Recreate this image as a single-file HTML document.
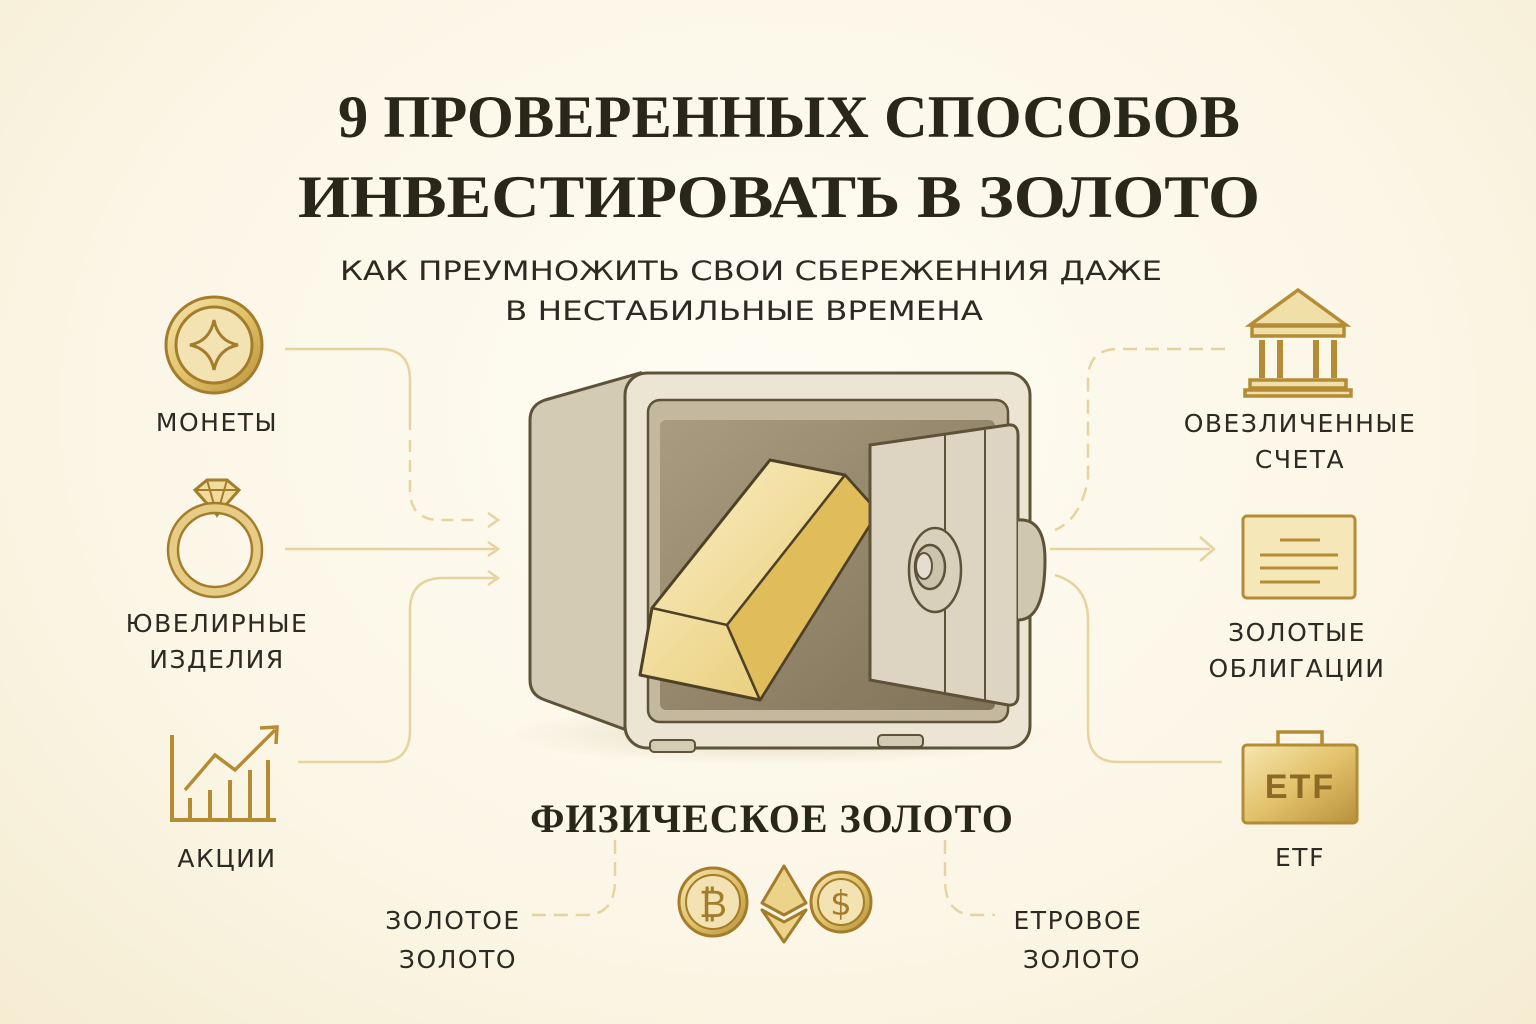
<!DOCTYPE html>
<html><head><meta charset="utf-8"><style>
html,body{margin:0;padding:0}
body{width:1536px;height:1024px;overflow:hidden;background:radial-gradient(ellipse at 50% 40%,#fefcf3 0%,#fbf6e6 60%,#f5ecd2 100%);}
svg{display:block}
.t{font-family:"Liberation Serif",serif;font-weight:bold;fill:#29261a}
.s{font-family:"DejaVu Sans","Liberation Sans",sans-serif;fill:#2c2a22}
</style></head><body>
<svg width="1536" height="1024" viewBox="0 0 1536 1024" xmlns="http://www.w3.org/2000/svg">
<defs>
<linearGradient id="g" x1="0" y1="0" x2="1" y2="1"><stop offset="0" stop-color="#f6e6b0"/><stop offset="0.5" stop-color="#e2c26a"/><stop offset="1" stop-color="#b8913a"/></linearGradient>
<linearGradient id="bar" x1="0" y1="0" x2="1" y2="1"><stop offset="0" stop-color="#fbf0c8"/><stop offset="1" stop-color="#e4c566"/></linearGradient>
<linearGradient id="inner" x1="0" y1="0" x2="1" y2="1"><stop offset="0" stop-color="#a99c80"/><stop offset="1" stop-color="#7f7258"/></linearGradient>
<radialGradient id="sh"><stop offset="0" stop-color="#c9bb98" stop-opacity=".5"/><stop offset="1" stop-color="#c9bb98" stop-opacity="0"/></radialGradient>
</defs>

<text class="t" x="338" y="137" font-size="60" textLength="902" lengthAdjust="spacingAndGlyphs">9 ПРОВЕРЕННЫХ СПОСОБОВ</text>
<text class="t" x="298" y="217" font-size="60" textLength="962" lengthAdjust="spacingAndGlyphs">ИНВЕСТИРОВАТЬ В ЗОЛОТО</text>
<text class="s" x="340" y="280" font-size="27" textLength="822" lengthAdjust="spacingAndGlyphs">КАК ПРЕУМНОЖИТЬ СВОИ СБЕРЕЖЕННИЯ ДАЖЕ</text>
<text class="s" x="505" y="320" font-size="27" textLength="478" lengthAdjust="spacingAndGlyphs">В НЕСТАБИЛЬНЫЕ ВРЕМЕНА</text>

<!-- connectors -->
<g fill="none" stroke="#e6d3a0" stroke-width="2.5">
<path d="M285 349 H380 Q410 349 410 380 V430"/>
<path d="M410 440 V490 Q410 520 440 520 H480" stroke-dasharray="12 8"/>
<path d="M285 549 H495"/>
<path d="M298 762 H380 Q410 762 410 730 V610 Q410 580 440 578 H495" />
<path d="M488 513 L498 520 L488 527 M488 542 L498 549 L488 556 M488 571 L498 578 L488 585"/>
<path d="M1225 349 H1118 Q1088 349 1088 380 V480 Q1080 520 1055 530" stroke-dasharray="14 8"/>
<path d="M1050 549 H1210 M1200 537 L1214 549 L1200 561"/>
<path d="M1055 575 Q1088 585 1088 620 V730 Q1088 762 1118 762 H1222"/>
<path d="M615 840 V880 Q615 915 585 915 H530" stroke-dasharray="14 8"/>
<path d="M945 840 V880 Q945 915 975 915 H995" stroke-dasharray="14 8"/>
</g>

<!-- safe -->
<ellipse cx="780" cy="735" rx="270" ry="30" fill="url(#sh)"/>
<path d="M545 400 L640 373 L640 735 L545 700 Q530 695 530 680 V420 Q530 405 545 400Z" fill="#d4cbb5" stroke="#5e5238" stroke-width="3"/>
<rect x="625" y="373" width="405" height="375" rx="22" fill="#ece5d3" stroke="#5e5238" stroke-width="3"/>
<rect x="648" y="400" width="360" height="322" rx="12" fill="#c4b99f" stroke="#5e5238" stroke-width="2.5"/>
<rect x="660" y="420" width="335" height="290" rx="6" fill="url(#inner)"/>
<rect x="650" y="740" width="45" height="12" rx="4" fill="#d4cbb5" stroke="#5e5238" stroke-width="2"/>
<rect x="878" y="735" width="45" height="12" rx="4" fill="#d4cbb5" stroke="#5e5238" stroke-width="2"/>
<!-- bar -->
<path d="M652 608 L770 460 L845 475 L878 512 L760 700 L640 675 Z" fill="url(#bar)" stroke="#4e4226" stroke-width="3" stroke-linejoin="round"/>
<path d="M652 608 L727 625 L845 475" fill="none" stroke="#4e4226" stroke-width="2.5"/>
<path d="M727 625 L760 700" fill="none" stroke="#4e4226" stroke-width="2.5"/>
<path d="M727 625 L845 475 L878 512 L760 700 Z" fill="#e0bd5a" stroke="#4e4226" stroke-width="2.5" stroke-linejoin="round"/>
<!-- door -->
<path d="M870 445 L1008 425 Q1018 424 1018 435 V695 Q1018 706 1008 705 L870 680 Z" fill="#ddd5c2" stroke="#5e5238" stroke-width="3"/>
<path d="M945 435 V695 M985 430 V700" stroke="#5e5238" stroke-width="2" fill="none"/>
<path d="M1018 520 Q1045 518 1045 560 Q1045 620 1018 620" fill="#d0c7b1" stroke="#5e5238" stroke-width="3"/>
<ellipse cx="935" cy="570" rx="26" ry="42" fill="#d8d0bb" stroke="#5e5238" stroke-width="2.5"/>
<ellipse cx="930" cy="567" rx="15" ry="22" fill="#ccc3ad" stroke="#5e5238" stroke-width="2.5"/>
<ellipse cx="924" cy="566" rx="8" ry="13" fill="#e5dece" stroke="#5e5238" stroke-width="2"/>

<!-- coin -->
<circle cx="214" cy="345" r="48" fill="url(#g)" stroke="#a47d2c" stroke-width="3"/>
<circle cx="214" cy="345" r="38" fill="#f3e3b2" stroke="#a47d2c" stroke-width="3"/>
<path d="M214 320 Q218 341 238 345 Q218 349 214 370 Q210 349 190 345 Q210 341 214 320Z" fill="none" stroke="#a47d2c" stroke-width="3"/>
<!-- ring -->
<path d="M195 490 L207 480 H227 L239 490 L217 515 Z" fill="#f0dc9c" stroke="#a47d2c" stroke-width="3"/>
<path d="M195 490 H239 M207 480 L217 515 L227 480" fill="none" stroke="#a47d2c" stroke-width="2"/>
<circle cx="215" cy="550" r="42" fill="none" stroke="#e6cc85" stroke-width="8"/>
<circle cx="215" cy="550" r="47" fill="none" stroke="#a47d2c" stroke-width="2.5"/>
<circle cx="215" cy="550" r="37" fill="none" stroke="#a47d2c" stroke-width="2.5"/>
<!-- chart -->
<g stroke="#b48c36" stroke-width="4" fill="none">
<path d="M172 735 V820 H276"/>
<path d="M190 820 V798 M210 820 V790 M230 820 V780 M250 820 V770 M268 820 V760"/>
<path d="M185 790 L215 755 L235 770 L275 730 M260 728 L277 727 L276 744" stroke-width="3.5"/>
</g>
<!-- bank -->
<g stroke="#b48c36" stroke-width="3.5" fill="#f1dfa8">
<path d="M1250 325 L1298 290 L1346 325 Z"/>
<rect x="1252" y="326" width="92" height="10"/>
<path d="M1262 340 V378 M1280 340 V378 M1316 340 V378 M1334 340 V378" fill="none" stroke-width="6"/>
<rect x="1250" y="380" width="96" height="8"/>
<rect x="1245" y="390" width="106" height="6"/>
</g>
<!-- certificate -->
<rect x="1243" y="516" width="112" height="82" rx="4" fill="#f6e7b8" stroke="#b48c36" stroke-width="3"/>
<path d="M1280 540 H1320 M1260 555 H1338 M1260 568 H1338 M1260 582 H1320" stroke="#b48c36" stroke-width="3"/>
<!-- ETF -->
<path d="M1278 745 V732 H1322 V745" fill="none" stroke="#b48c36" stroke-width="3.5"/>
<rect x="1243" y="745" width="114" height="78" rx="4" fill="url(#g)" stroke="#b48c36" stroke-width="3"/>
<text x="1300" y="798" font-family="Liberation Sans,sans-serif" font-size="34" font-weight="bold" fill="#8a6a26" text-anchor="middle" letter-spacing="2">ETF</text>
<!-- crypto -->
<circle cx="713" cy="902" r="34" fill="url(#g)" stroke="#a47d2c" stroke-width="3"/>
<circle cx="713" cy="902" r="27" fill="#f3e3b2" stroke="#a47d2c" stroke-width="2"/>
<text x="713" y="917" font-family="DejaVu Sans,sans-serif" font-size="38" fill="#a47d2c" text-anchor="middle">₿</text>
<path d="M784 866 L806 903 L784 915 L762 903 Z M762 910 L784 942 L806 910 L784 922 Z" fill="#ecd38a" stroke="#a47d2c" stroke-width="3" stroke-linejoin="round"/>
<circle cx="841" cy="902" r="30" fill="url(#g)" stroke="#a47d2c" stroke-width="3"/>
<circle cx="841" cy="902" r="23" fill="#f3e3b2" stroke="#a47d2c" stroke-width="2"/>
<text x="841" y="915" font-family="DejaVu Sans,sans-serif" font-size="34" fill="#a47d2c" text-anchor="middle">$</text>

<!-- labels -->
<g class="s" font-size="25" text-anchor="middle" letter-spacing="1.5">
<text x="217" y="431">МОНЕТЫ</text>
<text x="217" y="632">ЮВЕЛИРНЫЕ</text>
<text x="217" y="668">ИЗДЕЛИЯ</text>
<text x="227" y="867">АКЦИИ</text>
<text x="1300" y="432">ОВЕЗЛИЧЕННЫЕ</text>
<text x="1300" y="468">СЧЕТА</text>
<text x="1297" y="641">ЗОЛОТЫЕ</text>
<text x="1297" y="677">ОБЛИГАЦИИ</text>
<text x="1300" y="866">ETF</text>
<text x="453" y="929">ЗОЛОТОЕ</text>
<text x="458" y="968">ЗОЛОТО</text>
<text x="1078" y="929">ЕТРОВОЕ</text>
<text x="1082" y="968">ЗОЛОТО</text>
</g>
<text class="t" x="772" y="832" font-size="40" text-anchor="middle" letter-spacing="1">ФИЗИЧЕСКОЕ ЗОЛОТО</text>
</svg>
</body></html>
